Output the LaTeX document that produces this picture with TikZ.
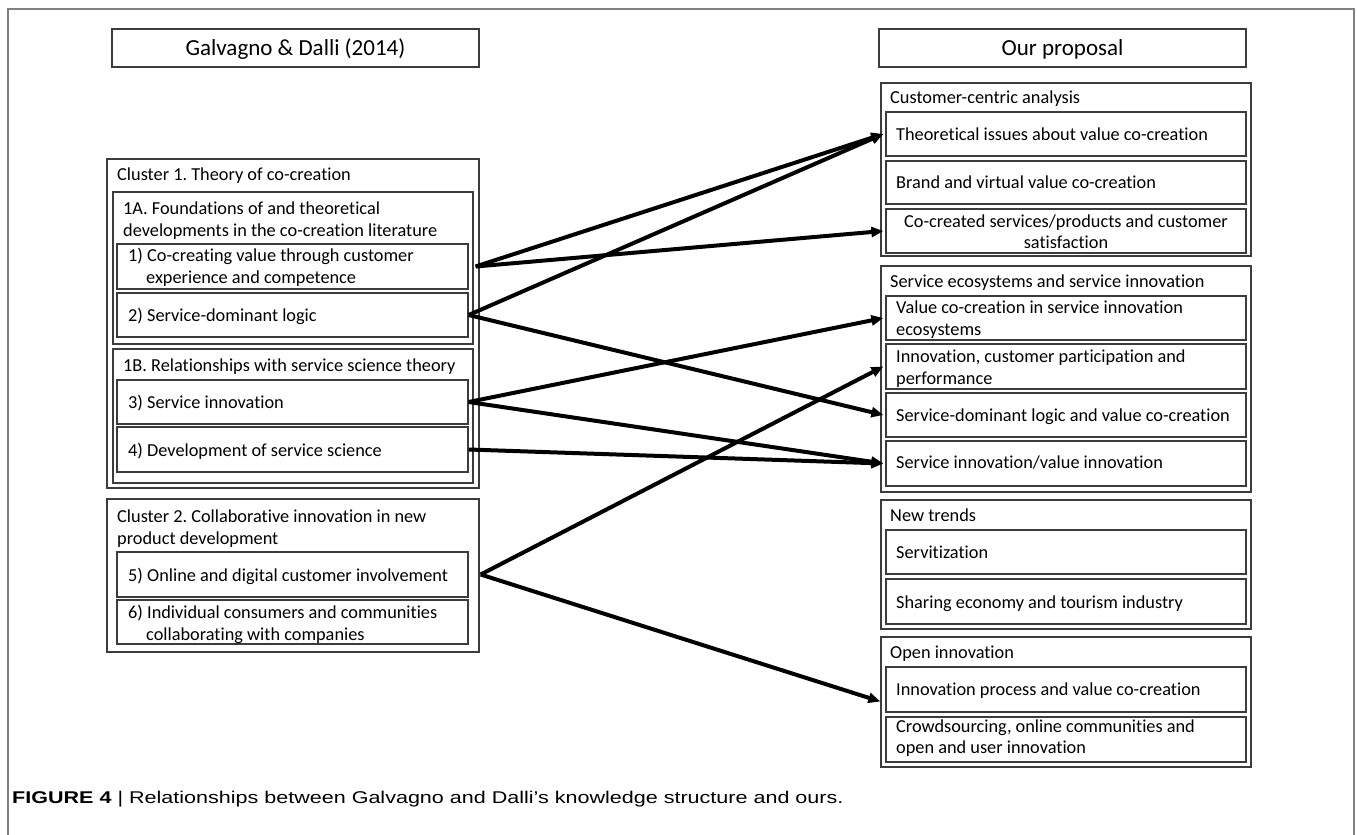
\documentclass[tikz,border=0pt]{standalone}
\usepackage{fontspec}
\setmainfont{Carlito}[Ligatures={NoCommon}]
\newfontfamily\capfont{Liberation Sans}
\usetikzlibrary{arrows.meta,calc,fit}
\definecolor{boxgray}{HTML}{3C3C3C}
\definecolor{framegray}{HTML}{808080}
\frenchspacing
\begin{document}
\begin{tikzpicture}[x=1pt,y=-1pt,
  box/.style={draw=boxgray, line width=1.3pt, inner sep=0pt},
  frameline/.style={draw=framegray, line width=1.5pt},
  txt/.style={anchor=base west, inner sep=0pt, font=\fontsize{18.3}{22}\selectfont},
  ctxt/.style={anchor=base, inner sep=0pt, font=\fontsize{18.3}{22}\selectfont},
  head/.style={anchor=base, inner sep=0pt, font=\fontsize{23}{28}\selectfont},
  arr/.style={-{Triangle[length=12pt,width=10pt]}, line width=4pt, black}]
\useasboundingbox (0,0) rectangle (1357,835);
\fill[white] (0,0) rectangle (1357,835);
% outer frame
\coordinate (fTL) at (8,9);
\coordinate (fTR) at (1354,9);
\coordinate (fBL) at (8,835);
\coordinate (fBR) at (1354,835);
\draw[frameline] (fBL) -- (fTL) -- (fTR) -- (fBR);
% headers
\node[box, fit={(112,29) (479,67)}] (hl) {};
\node[head] (hlt) at (295.5,55) {Galvagno \& Dalli (2014)};
\node[box, fit={(879,29) (1246,67)}] (hr) {};
\node[head] (hrt) at (1062.5,55) {Our proposal};
% ---------- left side
\node[box, fit={(107,159) (479,488)}] (c1) {};
\node[txt] (c1t) at (117,180) {Cluster 1. Theory of co-creation};
\node[box, fit={(113,192) (473,344)}] (c1a) {};
\node[txt] (c1at1) at (123,214) {1A. Foundations of and theoretical};
\node[txt] (c1at2) at (123,236) {developments in the co-creation literature};
\node[box, fit={(117,244) (468,289)}] (b1) {};
\node[txt] (b1t1) at (128,261) {1) Co-creating value through customer};
\node[txt] (b1t2) at (146,283) {experience and competence};
\node[box, fit={(117,293) (468,337)}] (b2) {};
\node[txt] (b2t) at (128,321) {2) Service-dominant logic};
\node[box, fit={(113,349) (473,483)}] (c1b) {};
\node[txt] (c1bt) at (123,371) {1B. Relationships with service science theory};
\node[box, fit={(117,380) (468,424)}] (b3) {};
\node[txt] (b3t) at (128,408) {3) Service innovation};
\node[box, fit={(117,427) (468,472)}] (b4) {};
\node[txt] (b4t) at (128,456) {4) Development of service science};
\node[box, fit={(107,499) (479,652)}] (c2) {};
\node[txt] (c2t1) at (117,522) {Cluster 2. Collaborative innovation in new};
\node[txt] (c2t2) at (117,544) {product development};
\node[box, fit={(117,552) (468,597)}] (b5) {};
\node[txt] (b5t) at (128,581) {5) Online and digital customer involvement};
\node[box, fit={(117,600) (468,644)}] (b6) {};
\node[txt] (b6t1) at (128,618) {6) Individual consumers and communities};
\node[txt] (b6t2) at (146,640) {collaborating with companies};
% ---------- right side
\node[box, fit={(881,83) (1251,256)}] (g1) {};
\node[txt] (g1t) at (890,103) {Customer-centric analysis};
\node[box, fit={(886,112) (1246,156)}] (r1) {};
\node[txt] (r1t) at (896,140) {Theoretical issues about value co-creation};
\node[box, fit={(886,161) (1246,204)}] (r2) {};
\node[txt] (r2t) at (896,188) {Brand and virtual value co-creation};
\node[box, fit={(886,209) (1246,253)}] (r3) {};
\node[ctxt] (r3t1) at (1066,227) {Co-created services/products and customer};
\node[ctxt] (r3t2) at (1066,248) {satisfaction};
\node[box, fit={(881,266) (1251,492)}] (g2) {};
\node[txt] (g2t) at (890,287) {Service ecosystems and service innovation};
\node[box, fit={(886,296) (1246,340)}] (r4) {};
\node[txt] (r4t1) at (896,313) {Value co-creation in service innovation};
\node[txt] (r4t2) at (896,335) {ecosystems};
\node[box, fit={(886,344) (1246,389)}] (r5) {};
\node[txt] (r5t1) at (896,362) {Innovation, customer participation and};
\node[txt] (r5t2) at (896,384) {performance};
\node[box, fit={(886,393) (1246,437)}] (r6) {};
\node[txt] (r6t) at (896,421) {Service-dominant logic and value co-creation};
\node[box, fit={(886,441) (1246,486)}] (r7) {};
\node[txt] (r7t) at (896,468) {Service innovation/value innovation};
\node[box, fit={(881,500) (1251,629)}] (g3) {};
\node[txt] (g3t) at (890,521) {New trends};
\node[box, fit={(886,530) (1246,574)}] (r8) {};
\node[txt] (r8t) at (896,558) {Servitization};
\node[box, fit={(886,579) (1246,624)}] (r9) {};
\node[txt] (r9t) at (896,608) {Sharing economy and tourism industry};
\node[box, fit={(881,637) (1251,767)}] (g4) {};
\node[txt] (g4t) at (890,658) {Open innovation};
\node[box, fit={(886,667) (1246,712)}] (r10) {};
\node[txt] (r10t) at (896,695) {Innovation process and value co-creation};
\node[box, fit={(886,717) (1246,762)}] (r11) {};
\node[txt] (r11t1) at (896,732) {Crowdsourcing, online communities and};
\node[txt] (r11t2) at (896,753) {open and user innovation};
% ---------- connectors
\coordinate (s1) at ($(b1.east)+(7,0)$);
\coordinate (s5) at ($(b5.east)+(12,0)$);
\coordinate (e10) at ($(r10.west)+(-5,12)$);
\draw[arr] (s1) -- ($(r1.west)+(-2,0)$);
\draw[arr] (s1) -- ($(r3.west)+(-2,0)$);
\draw[arr] (b2.east) -- ($(r1.west)+(-2,0)$);
\draw[arr] (b2.east) -- ($(r6.west)+(-2,0)$);
\draw[arr] (b3.east) -- ($(r4.west)+(-2,0)$);
\draw[arr] (b3.east) -- ($(r7.west)+(-2,0)$);
\draw[arr] (b4.east) -- ($(r7.west)+(-2,0)$);
\draw[arr] (s5) -- ($(r5.west)+(-2,0)$);
\draw[arr] (s5) -- (e10);
% caption
\node[anchor=base west, inner sep=0pt] (cap) at (12,803) {\scalebox{1.267}[1]{\capfont\fontsize{17}{20}\selectfont\textbf{FIGURE 4} | Relationships between Galvagno and Dalli’s knowledge structure and ours.}};
\end{tikzpicture}
\end{document}
